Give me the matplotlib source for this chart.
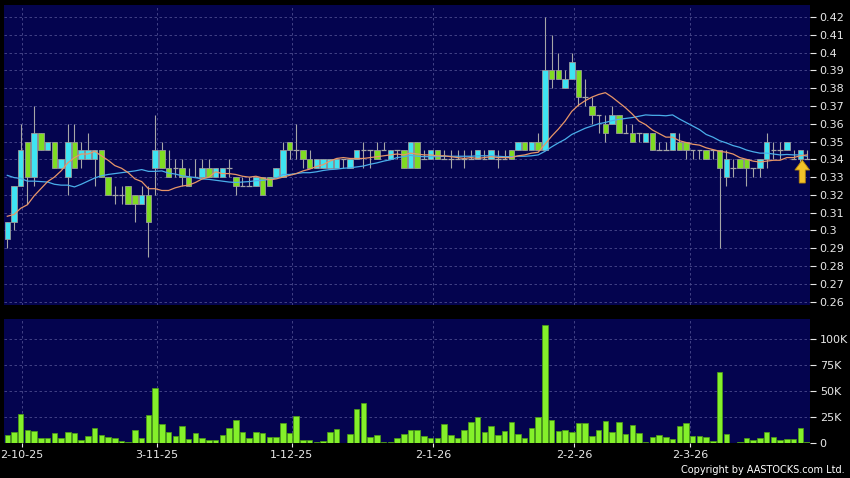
import matplotlib
matplotlib.use('Agg')
import matplotlib.pyplot as plt
from matplotlib.patches import FancyArrow
import numpy as np
import pandas as pd

# ---- daily bars, oldest first (HKD; volume in thousand shares) ----
opens = [0.295, 0.305, 0.325, 0.35, 0.33, 0.355, 0.345, 0.35, 0.335, 0.33,
         0.35, 0.34, 0.34, 0.34, 0.345, 0.33, 0.32, 0.32, 0.325, 0.32,
         0.315, 0.32, 0.335, 0.345, 0.335, 0.335, 0.335, 0.33, 0.33, 0.33,
         0.335, 0.33, 0.33, 0.335, 0.33, 0.325, 0.325, 0.325, 0.33, 0.33,
         0.33, 0.33, 0.35, 0.345, 0.345, 0.34, 0.335, 0.335, 0.335, 0.335,
         0.34, 0.335, 0.34, 0.345, 0.345, 0.345, 0.345, 0.34, 0.345, 0.345,
         0.335, 0.35, 0.34, 0.34, 0.345, 0.34, 0.34, 0.34, 0.34, 0.34,
         0.34, 0.34, 0.34, 0.34, 0.34, 0.345, 0.345, 0.35, 0.345, 0.35,
         0.345, 0.39, 0.39, 0.38, 0.385, 0.39, 0.375, 0.37, 0.365, 0.36,
         0.36, 0.365, 0.355, 0.355, 0.355, 0.35, 0.355, 0.345, 0.345, 0.345,
         0.35, 0.35, 0.345, 0.345, 0.345, 0.345, 0.345, 0.33, 0.335, 0.34,
         0.34, 0.335, 0.335, 0.34, 0.345, 0.345, 0.345, 0.34, 0.34, 0.34]
highs = [0.305, 0.325, 0.36, 0.35, 0.37, 0.355, 0.35, 0.35, 0.34, 0.36,
         0.36, 0.35, 0.355, 0.345, 0.345, 0.33, 0.325, 0.325, 0.325, 0.32,
         0.325, 0.325, 0.365, 0.35, 0.345, 0.34, 0.34, 0.335, 0.34, 0.34,
         0.34, 0.335, 0.335, 0.34, 0.33, 0.33, 0.33, 0.33, 0.33, 0.33,
         0.335, 0.35, 0.35, 0.36, 0.345, 0.345, 0.34, 0.34, 0.34, 0.34,
         0.34, 0.34, 0.345, 0.35, 0.345, 0.35, 0.35, 0.345, 0.345, 0.345,
         0.35, 0.35, 0.345, 0.345, 0.345, 0.345, 0.345, 0.345, 0.345, 0.345,
         0.345, 0.345, 0.345, 0.345, 0.345, 0.345, 0.35, 0.35, 0.35, 0.355,
         0.42, 0.41, 0.40, 0.39, 0.40, 0.39, 0.385, 0.375, 0.365, 0.365,
         0.37, 0.365, 0.36, 0.36, 0.355, 0.355, 0.355, 0.35, 0.35, 0.355,
         0.355, 0.35, 0.345, 0.345, 0.345, 0.345, 0.345, 0.345, 0.34, 0.34,
         0.34, 0.335, 0.34, 0.355, 0.35, 0.35, 0.35, 0.345, 0.345, 0.345]
lows = [0.29, 0.30, 0.325, 0.315, 0.325, 0.345, 0.345, 0.335, 0.335, 0.32,
        0.335, 0.335, 0.34, 0.325, 0.33, 0.32, 0.315, 0.315, 0.315, 0.305,
        0.315, 0.285, 0.32, 0.335, 0.33, 0.33, 0.325, 0.325, 0.33, 0.33,
        0.33, 0.33, 0.33, 0.33, 0.32, 0.325, 0.325, 0.325, 0.32, 0.325,
        0.33, 0.33, 0.34, 0.34, 0.335, 0.335, 0.335, 0.335, 0.335, 0.335,
        0.335, 0.335, 0.34, 0.335, 0.335, 0.34, 0.345, 0.34, 0.34, 0.335,
        0.335, 0.335, 0.34, 0.34, 0.34, 0.34, 0.335, 0.34, 0.335, 0.34,
        0.34, 0.34, 0.34, 0.335, 0.34, 0.34, 0.345, 0.345, 0.345, 0.345,
        0.345, 0.38, 0.385, 0.38, 0.385, 0.37, 0.37, 0.36, 0.355, 0.35,
        0.36, 0.355, 0.355, 0.35, 0.35, 0.35, 0.345, 0.345, 0.345, 0.345,
        0.345, 0.34, 0.34, 0.34, 0.34, 0.34, 0.29, 0.325, 0.33, 0.335,
        0.325, 0.33, 0.33, 0.335, 0.34, 0.34, 0.345, 0.34, 0.335, 0.34]
closes = [0.305, 0.325, 0.345, 0.33, 0.355, 0.345, 0.35, 0.335, 0.34, 0.35,
          0.335, 0.345, 0.345, 0.345, 0.33, 0.32, 0.32, 0.32, 0.315, 0.315,
          0.32, 0.305, 0.345, 0.335, 0.33, 0.335, 0.33, 0.325, 0.33, 0.335,
          0.33, 0.335, 0.335, 0.335, 0.325, 0.325, 0.325, 0.33, 0.32, 0.325,
          0.335, 0.345, 0.345, 0.345, 0.34, 0.335, 0.34, 0.34, 0.34, 0.34,
          0.34, 0.34, 0.345, 0.345, 0.345, 0.34, 0.345, 0.345, 0.345, 0.335,
          0.35, 0.335, 0.34, 0.345, 0.34, 0.34, 0.34, 0.34, 0.34, 0.34,
          0.345, 0.34, 0.345, 0.34, 0.34, 0.34, 0.35, 0.345, 0.35, 0.345,
          0.39, 0.385, 0.385, 0.385, 0.395, 0.375, 0.375, 0.365, 0.365, 0.355,
          0.365, 0.355, 0.355, 0.35, 0.355, 0.355, 0.345, 0.345, 0.345, 0.355,
          0.345, 0.345, 0.345, 0.345, 0.34, 0.345, 0.335, 0.34, 0.335, 0.335,
          0.335, 0.335, 0.34, 0.35, 0.345, 0.345, 0.35, 0.34, 0.345, 0.34]
volumes_k = [8, 10.6, 28, 13, 11.6, 5, 4.5, 9.7, 4.8, 11,
             10, 3.2, 6.5, 14, 7.7, 5.8, 4.8, 2, 1.3, 13,
             5, 27, 53.5, 18, 10.6, 6.8, 16.5, 4.2, 10, 4.5,
             3.2, 2.6, 7.4, 14, 22, 11, 5, 10.6, 9.4, 5.5,
             5.5, 19.7, 10, 26.5, 3.2, 3.2, 1.3, 2, 10.6, 13.5,
             0.3, 9, 33, 39, 6, 8, 1.3, 1.3, 5, 8.7,
             12.6, 13, 7, 5, 4.5, 18.7, 7.4, 5, 13, 20,
             25, 11, 16.8, 7.7, 11.6, 20, 8.4, 5, 14, 25,
             114, 22.6, 12, 13, 10.6, 19, 19, 6.5, 13, 21,
             10.6, 20, 8.7, 17.7, 9.4, 1, 6, 7.4, 5.5, 4.2,
             16.8, 19.7, 7, 6.5, 5.8, 1.6, 68.7, 8.7, 0, 0.6,
             4.5, 3, 4.5, 10.3, 6, 3.2, 3.5, 3.5, 14.5, 1]

# closes before the window, only to warm up the 10/20 day averages
closes_before = [0.35, 0.355, 0.36, 0.355, 0.35, 0.355, 0.36, 0.35, 0.35, 0.355,
                 0.315, 0.31, 0.31, 0.305, 0.305, 0.31, 0.31, 0.305, 0.305]

date_labels = ['2-10-25', '3-11-25', '1-12-25', '2-1-26', '2-2-26', '2-3-26']
date_bars = [2.2, 22.3, 42.3, 63.4, 84.4, 101.6]

price_ticks = [0.26, 0.27, 0.28, 0.29, 0.30, 0.31, 0.32, 0.33, 0.34, 0.35,
               0.36, 0.37, 0.38, 0.39, 0.40, 0.41, 0.42]
vol_ticks_k = [0, 25, 50, 75, 100]

# ---- colours ----
BG = '#04044f'
GRID = '#4b4b8e'
UP = '#3fe4f2'
DOWN = '#7fdc22'
WICK = '#a6a6a6'
VOL = '#84f02a'
TXT = '#e8e8e8'

x = np.arange(len(closes))
o = np.array(opens)
h = np.array(highs)
l = np.array(lows)
c = np.array(closes)

all_closes = pd.Series(closes_before + closes)
ma10 = all_closes.rolling(10).mean().values[-len(closes):]
ma20 = all_closes.rolling(20).mean().values[-len(closes):]

fig = plt.figure(figsize=(8.5, 4.78), dpi=100, facecolor='black')
W, H = 850.0, 478.0
ax = fig.add_axes([4 / W, 1 - 305 / H, 806 / W, 300 / H])
axv = fig.add_axes([4 / W, 1 - 443 / H, 806 / W, 124 / H], sharex=ax)

for a in (ax, axv):
    a.set_facecolor(BG)
    for s in a.spines.values():
        s.set_visible(False)
    a.yaxis.tick_right()
    a.tick_params(axis='y', colors=TXT, length=4, width=0.8, labelsize=8, pad=3)
    a.grid(True, color=GRID, linestyle=(0, (3, 3)), linewidth=0.6)
    a.set_axisbelow(True)

# ---- price panel ----
ax.vlines(x, l, h, color=WICK, linewidth=0.8, zorder=2)
up = c > o
down = c < o
flat = c == o
ax.bar(x[up], (c - o)[up], bottom=o[up], width=0.82, color=UP,
       edgecolor='#9a9a9a', linewidth=0.6, zorder=3)
ax.bar(x[down], (o - c)[down], bottom=c[down], width=0.82, color=DOWN,
       edgecolor='#9a9a9a', linewidth=0.6, zorder=3)
ax.hlines(c[flat], x[flat] - 0.41, x[flat] + 0.41, color=WICK, linewidth=0.9, zorder=3)

ax.plot(x, ma20, color='#4aaeea', linewidth=0.9, zorder=4)
ax.plot(x, ma10, color='#e89668', linewidth=0.9, zorder=4)

# marker arrow under the latest bar
ax.add_patch(FancyArrow(x[-1] - 0.7, c[-1] - 0.0133, 0, 0.0129, width=0.9,
                        head_width=2.2, head_length=0.0056,
                        length_includes_head=True, facecolor='#f4c229',
                        edgecolor='#b8860b', linewidth=0.6, zorder=5))

ax.set_ylim(0.2581, 0.4268)
ax.set_yticks(price_ticks)
ax.set_yticklabels([f'{v:g}' for v in price_ticks])
ax.set_xlim(-0.49, 119.45)
ax.set_xticks(date_bars)
ax.tick_params(axis='x', bottom=False, labelbottom=False)

# ---- volume panel ----
axv.bar(x, np.array(volumes_k) * 1000, width=0.82, color=VOL,
        edgecolor='#4ea012', linewidth=0.5, zorder=3)
axv.set_ylim(0, 119600)
axv.set_yticks([v * 1000 for v in vol_ticks_k])
axv.set_yticklabels(['0' if v == 0 else f'{v}K' for v in vol_ticks_k])
axv.set_xticks(date_bars)
axv.set_xticklabels(date_labels)
axv.tick_params(axis='x', colors=TXT, length=3, width=0.8, labelsize=8, pad=2)

fig.text(845 / W, 1 - 470 / H, 'Copyright by AASTOCKS.com Ltd.', ha='right',
         va='center', color='white', fontsize=7)

plt.savefig('out.png', dpi=100, facecolor='black')
plt.close()
